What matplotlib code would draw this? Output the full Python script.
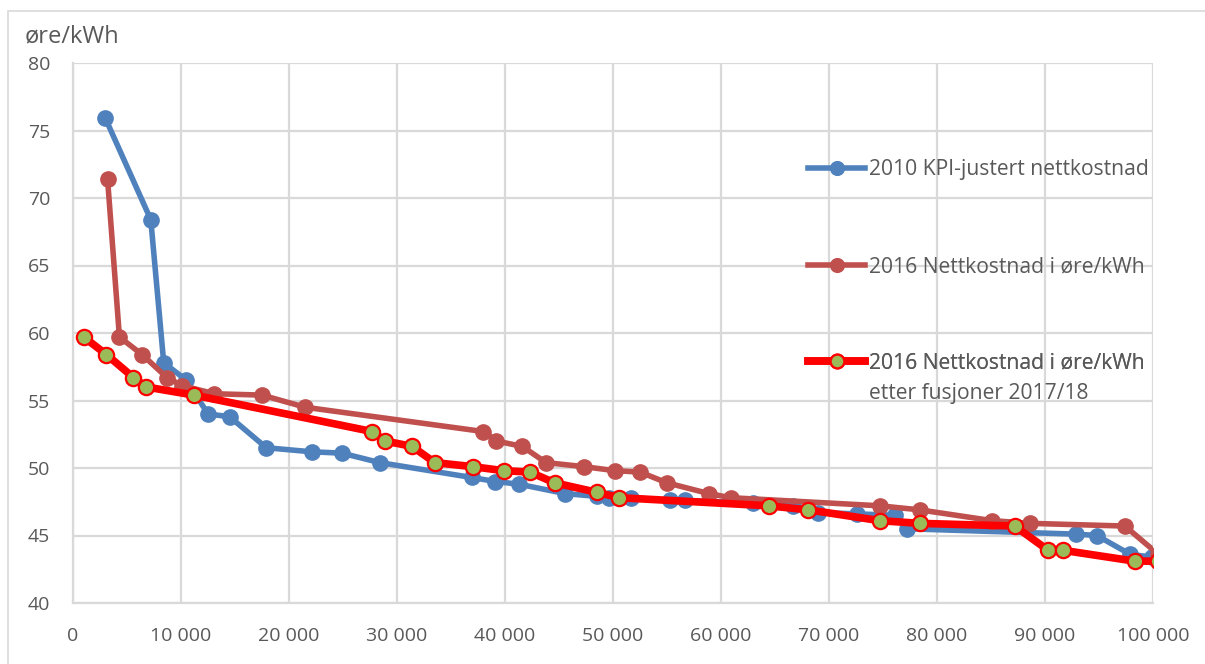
import matplotlib
matplotlib.use("Agg")
import matplotlib.pyplot as plt
from matplotlib.ticker import FuncFormatter, MultipleLocator
from matplotlib.patches import Rectangle

plt.rcParams['font.family'] = ['Open Sans', 'DejaVu Sans']

# ---- data ----
x_2010 = [3000, 7200, 8400, 10500, 12500, 14500, 17900, 22100, 24900, 28400,
          36900, 39100, 41300, 45600, 48500, 49600, 51700, 55300, 56700,
          63000, 66700, 69000, 72600, 76100, 77200, 92900, 94800, 97900, 99900]
y_2010 = [75.9, 68.4, 57.8, 56.5, 54.0, 53.8, 51.5, 51.2, 51.1, 50.4,
          49.3, 49.0, 48.8, 48.1, 47.9, 47.8, 47.8, 47.6, 47.6,
          47.4, 47.2, 46.7, 46.6, 46.5, 45.5, 45.1, 45.0, 43.6, 43.4]

x_2016 = [3200, 4300, 6400, 8700, 10100, 13100, 17500, 21500, 38000, 39200,
          41600, 43800, 47300, 50200, 52500, 55000, 58900, 60900, 74700,
          78400, 85100, 88600, 97400, 100500]
y_2016 = [71.4, 59.7, 58.4, 56.7, 56.1, 55.5, 55.4, 54.5, 52.7, 52.0,
          51.6, 50.4, 50.1, 49.8, 49.7, 48.9, 48.1, 47.8, 47.2,
          46.9, 46.1, 45.9, 45.7, 43.6]

x_fusjon = [1000, 3100, 5600, 6800, 11200, 27700, 28900, 31400, 33500, 37000,
            39900, 42300, 44600, 48500, 50600, 64400, 68100, 74700, 78400,
            87200, 90300, 91700, 98300, 100500]
y_fusjon = [59.7, 58.4, 56.7, 56.0, 55.4, 52.7, 52.0, 51.6, 50.4, 50.1,
            49.8, 49.7, 48.9, 48.2, 47.8, 47.2, 46.9, 46.1, 45.9,
            45.7, 43.9, 43.9, 43.1, 43.1]

labels = ["2010 KPI-justert nettkostnad",
          "2016 Nettkostnad i øre/kWh",
          "2016 Nettkostnad i øre/kWh",
          "etter fusjoner 2017/18"]
y_title = "øre/kWh"

# ---- styling ----
c_blue = "#4f81bd"
c_brown = "#c0504d"
c_red = "#ff0000"
c_green = "#9bbb59"
c_text = "#595959"
c_grid = "#d9d9d9"
fs = 14
fs_leg = 15.2
fs_title = 17

fig = plt.figure(figsize=(12.05, 6.64), dpi=100)
ax = fig.add_axes([73/1205, 1-603/664, 1080/1205, 540/664])

l1, = ax.plot(x_2010, y_2010, color=c_blue, lw=4.0, marker='o', ms=11,
              mfc=c_blue, mec=c_blue, zorder=3, solid_joinstyle='round')
l2, = ax.plot(x_2016, y_2016, color=c_brown, lw=4.0, marker='o', ms=11,
              mfc=c_brown, mec=c_brown, zorder=4, solid_joinstyle='round')
l3, = ax.plot(x_fusjon, y_fusjon, color=c_red, lw=5.5, marker='o', ms=11,
              mfc=c_green, mec=c_red, mew=1.6, zorder=5, solid_joinstyle='round')

ax.set_xlim(0, 100000)
ax.set_ylim(40, 80)
ax.xaxis.set_major_locator(MultipleLocator(10000))
ax.yaxis.set_major_locator(MultipleLocator(5))
ax.xaxis.set_major_formatter(FuncFormatter(lambda v, p: f"{int(v):,}".replace(",", " ")))
ax.grid(True, color=c_grid, lw=1.6, zorder=0)
ax.set_axisbelow(True)
for s in ax.spines.values():
    s.set_visible(False)
for side in ('left', 'bottom'):
    ax.spines[side].set_visible(True)
    ax.spines[side].set_color(c_grid)
    ax.spines[side].set_linewidth(1.6)
ax.tick_params(length=0, labelsize=fs, labelcolor=c_text)
ax.tick_params(axis='x', pad=17)
ax.tick_params(axis='y', pad=16.5)

fig.text(25/1205, 1-36/664, y_title, fontsize=fs_title, color=c_text, va='center', ha='left')

# legend entries (no frame, placed inside the plot area on the right)
hx = (808-73)/1080
for line, lab, yy in [(l1, labels[0], (603-170)/540),
                      (l2, labels[1], (603-267)/540),
                      (l3, labels[2], (603-363)/540)]:
    lg = ax.legend([line], [lab], loc='center left', bbox_to_anchor=(hx, yy),
                   frameon=False, fontsize=fs_leg, handlelength=2.7, handletextpad=0.2,
                   borderpad=0, borderaxespad=0, labelcolor=c_text, markerscale=0.9)
    ax.add_artist(lg)
ax.text((869-73)/1080, (603-393)/540, labels[3], transform=ax.transAxes,
        fontsize=fs_leg, color=c_text, va='center', ha='left')

# outer chart border (top and left visible, the rest runs off the image)
fig.add_artist(Rectangle((8/1205, -0.1), 1.1, 1.1 - 11/664,
                         transform=fig.transFigure, fill=False,
                         ec="#d9d9d9", lw=1.2))

fig.savefig("out.png", dpi=100)
